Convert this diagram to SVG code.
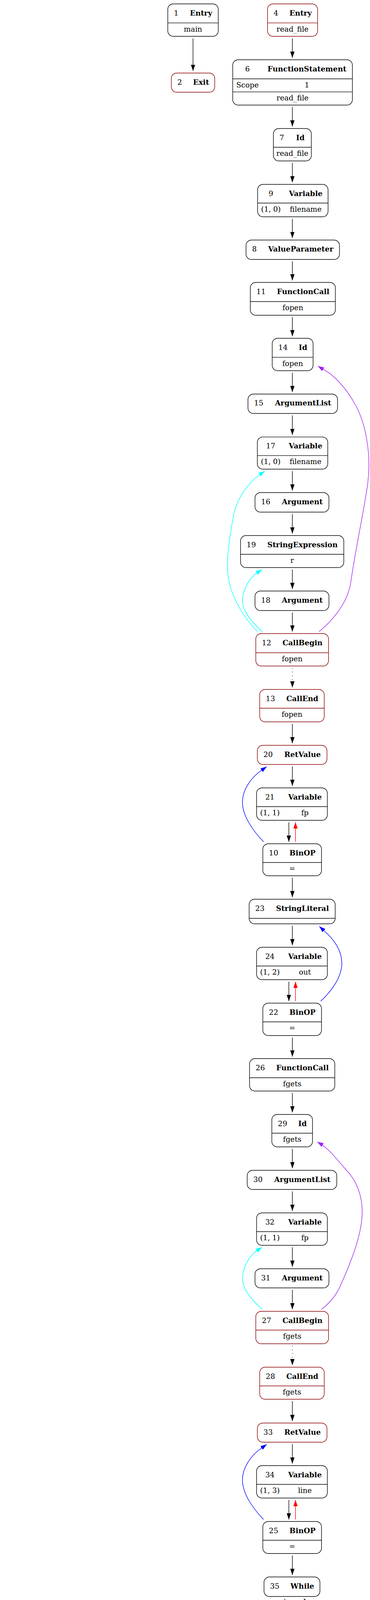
<svg xmlns="http://www.w3.org/2000/svg" width="946" height="7199" viewBox="0 0 946 7199">
<style>
text{font-family:"DejaVu Serif","Liberation Serif",serif;font-size:18.67px;text-anchor:middle;fill:#000}
.b{font-weight:bold}
.lbl{text-anchor:start}
.node rect{fill:#fff;stroke:#000;stroke-width:1.4}
.node line{stroke:#000;stroke-width:1.4}
.red rect,.red line{stroke:#8b0000}
.e{fill:none;stroke-width:1.4}
.k{stroke:#000;marker-end:url(#mk)}
.rd{stroke:#f00;marker-end:url(#mr)}
.bl{stroke:#00f;marker-end:url(#mb)}
.cy{stroke:#0ff;marker-end:url(#mc)}
.pu{stroke:#a020f0;marker-end:url(#mp)}
.dt{stroke-dasharray:1.6,8}
</style>
<defs>
<marker id="mk" viewBox="0 0 16 11" refX="16" refY="5.5" markerWidth="16" markerHeight="11" markerUnits="userSpaceOnUse" orient="auto"><path d="M0,0L16,5.5L0,11z" fill="#000"/></marker>
<marker id="mr" viewBox="0 0 16 11" refX="16" refY="5.5" markerWidth="16" markerHeight="11" markerUnits="userSpaceOnUse" orient="auto"><path d="M0,0L16,5.5L0,11z" fill="#f00"/></marker>
<marker id="mb" viewBox="0 0 16 11" refX="16" refY="5.5" markerWidth="16" markerHeight="11" markerUnits="userSpaceOnUse" orient="auto"><path d="M0,0L16,5.5L0,11z" fill="#00f"/></marker>
<marker id="mc" viewBox="0 0 16 11" refX="16" refY="5.5" markerWidth="16" markerHeight="11" markerUnits="userSpaceOnUse" orient="auto"><path d="M0,0L16,5.5L0,11z" fill="#0ff"/></marker>
<marker id="mp" viewBox="0 0 16 11" refX="16" refY="5.5" markerWidth="16" markerHeight="11" markerUnits="userSpaceOnUse" orient="auto"><path d="M0,0L16,5.5L0,11z" fill="#a020f0"/></marker>
</defs>
<rect x="0" y="0" width="946" height="7199" fill="#fff"/>
<g id="edges">
<path class="e k" d="M493.5,98.5L493.5,181.5"/>
<path class="e k" d="M747.5,98.5L747.5,148"/>
<path class="e k" d="M747.5,274.5L747.5,324"/>
<path class="e k" d="M747.5,417L747.5,467"/>
<path class="e k" d="M747.5,560L747.5,609.5"/>
<path class="e k" d="M747.5,669L747.5,718"/>
<path class="e k" d="M747.5,812L747.5,861"/>
<path class="e k" d="M747.5,954L747.5,1003.7"/>
<path class="e k" d="M747.5,1063.5L747.5,1113.6"/>
<path class="e k" d="M747.5,1206L747.5,1256"/>
<path class="e k" d="M747.5,1316L747.5,1366"/>
<path class="e k" d="M747.5,1458L747.5,1508"/>
<path class="e k" d="M747.5,1568L747.5,1617"/>
<path class="e k dt" d="M747.5,1710L747.5,1760"/>
<path class="e k" d="M747.5,1853L747.5,1903"/>
<path class="e k" d="M747.5,1962L747.5,2012"/>
<path class="e k" d="M738.5,2105L738.5,2155"/>
<path class="e rd" d="M755.5,2155L755.5,2105"/>
<path class="e k" d="M747.5,2247L747.5,2297"/>
<path class="e k" d="M747.5,2370L747.5,2420"/>
<path class="e k" d="M738.5,2513L738.5,2563"/>
<path class="e rd" d="M755.5,2563L755.5,2513"/>
<path class="e k" d="M747.5,2656L747.5,2705"/>
<path class="e k" d="M747.5,2798L747.5,2848"/>
<path class="e k" d="M747.5,2941L747.5,2991"/>
<path class="e k" d="M747.5,3050L747.5,3100"/>
<path class="e k" d="M747.5,3193L747.5,3243"/>
<path class="e k" d="M747.5,3302L747.5,3352"/>
<path class="e k dt" d="M747.5,3445L747.5,3495"/>
<path class="e k" d="M747.5,3587L747.5,3638"/>
<path class="e k" d="M747.5,3697L747.5,3747"/>
<path class="e k" d="M738.5,3840L738.5,3890"/>
<path class="e rd" d="M755.5,3890L755.5,3840"/>
<path class="e k" d="M747.5,3982L747.5,4032"/>
<path class="e k" d="M729,4093L701,4141"/>
<path class="e k" d="M666,4234L659,4283"/>
<path class="e k" d="M638,4377L634,4427"/>
<path class="e cy" d="M651,4427L654,4377"/>
<path class="e k" d="M635,4520L632,4569"/>
<path class="e k" d="M584,4629L446,4713"/>
<path class="e k" d="M630,4629L630,4697"/>
<path class="e k" d="M630,4791L630,4839"/>
<path class="e k" d="M622,4933L621,4982"/>
<path class="e cy" d="M639,4982L640,4934"/>
<path class="e k" d="M630,5076L630,5124"/>
<path class="e k" d="M618,5218L613,5267"/>
<path class="e rd" d="M630,5268L634,5219"/>
<path class="e k" d="M616,5361L616,5410"/>
<path class="e k" d="M614,5504L612,5571"/>
<path class="e k" d="M609,5665L608,5731"/>
<path class="e k" d="M608,5791L608,5915"/>
<path class="e k" d="M610,6009L610,6058"/>
<path class="e k" d="M610,6118L610,6168"/>
<path class="e k dt" d="M612,6260L613,6310"/>
<path class="e k" d="M621,6404L630,6469"/>
<path class="e k" d="M637,6530L641,6596"/>
<path class="e k" d="M681,6689L725,6738"/>
<path class="e rd" d="M743,6738L698,6690"/>
<path class="e k" d="M389,4775L363,4856"/>
<path class="e k" d="M349,4917L336,4982"/>
<path class="e k" d="M314,5076L293,5135"/>
<path class="e k" d="M274,5209L273,5267"/>
<path class="e cy" d="M291,5267L291,5209"/>
<path class="e k" d="M282,5361L282,5427"/>
<path class="e k" d="M261,5488L186,5588"/>
<path class="e k" d="M293,5488L326,5571"/>
<path class="e k" d="M343.5,5666L343.5,5832"/>
<path class="e k" d="M159,5649L150,5714"/>
<path class="e k" d="M139,5808L133,5914"/>
<path class="e k" d="M131,6008L130,6058"/>
<path class="e k" d="M131,6118L143,6168"/>
<path class="e k" d="M146,6260L150,6327"/>
<path class="e k" d="M154,6387L167,6453"/>
<path class="e k dt" d="M186,6546L194,6596"/>
<path class="e k" d="M205.5,6689L205.5,6755"/>
<path class="e k" d="M205.5,6815L205.5,6881"/>
<path class="e k" d="M208,6975L211,7023"/>
<path class="e k" d="M232,7084L261,7133"/>
<path class="e k" d="M343.5,5892L343.5,7055C343.5,7080 335,7100 319,7117.5L309,7130"/>
<path class="e k" d="M800.5,6738C812,6718 822,6690 822,6650L822,4190C822,4160 805,4130 786.7,4105.2L777,4092.5"/>
<path class="e cy" d="M659,1617C625,1585 592,1530 584,1480C577,1430 588,1370 597,1320C605,1280 630,1240 663.8,1215L677,1206"/>
<path class="e cy" d="M670.6,1617C640,1590 618,1560 620,1535C622,1505 640,1478 656.6,1466.8L670,1458"/>
<path class="e pu" d="M816,1617C862,1578 890,1535 897,1490C910,1400 930,1310 940,1240C950,1160 935,1080 905,1030C885,995 855,960 826.2,945.4L812.6,937"/>
<path class="e bl" d="M674,2155C645,2125 622,2090 620,2058C618,2025 640,1992 668.9,1971.8L682,1962.6"/>
<path class="e bl" d="M820,2563C850,2535 874,2500 874,2465C874,2435 855,2405 828.1,2382.2L816.3,2371.4"/>
<path class="e pu" d="M822,3352C850,3330 862,3310 870,3292C900,3225 925,3160 926,3105C927,3060 910,3020 885,2995C868,2975 848,2950 824.6,2931.3L811,2923"/>
<path class="e cy" d="M670.6,3352C640,3325 618,3295 620,3270C622,3240 640,3213 656.6,3201.8L670,3193"/>
<path class="e bl" d="M674,3890C645,3860 622,3825 620,3793C618,3760 640,3727 668.9,3706.8L682,3697.6"/>
<path class="e cy" d="M703.7,4426.6C730,4400 752,4370 753,4334C754,4300 740,4270 724.6,4247.2L715,4234.4"/>
<path class="e cy" d="M703,4983C735,4950 755,4920 755.5,4886C756,4850 745,4830 721.8,4805.7L710,4795"/>
<path class="e bl" d="M553,5268C525,5238 503,5205 503.7,5169C504,5130 520,5105 542.7,5085.6L555.5,5076"/>
<path class="e cy" d="M366,5271C400,5245 426,5210 426.5,5173C427,5135 410,5110 392.6,5089.8L383,5077"/>
<path class="e cy" d="M532.7,6166.7C505,6140 483,6115 484,6090C485,6060 500,6040 520,6021L532.7,6011.5"/>
<path class="e pu" d="M683.7,6166.7C710,6150 745,6120 760,6055C775,5990 787,5930 784,5880C781,5800 765,5740 740,5705C725,5685 705,5668 687.4,5657.5L674,5648.8"/>
<path class="e bl" d="M693.4,6774.5C640,6765 575,6740 545,6710C520,6685 512,6650 518,6625C525,6595 550,6560 576.4,6539.8L589,6530"/>
<path class="e pu" d="M231.6,6452.6C250,6435 262,6415 270,6395C285,6350 298,6290 298,6229C298,6160 290,6090 262,6050C250,6030 230,6012 209.4,6001.6L196,5993"/>
<path class="e cy" d="M100,6454C60,6425 22,6395 22,6360C22,6320 38,6290 54.6,6270L68,6261"/>
<text class="lbl" x="544" y="4669">False</text>
<text class="lbl" x="631" y="4669">True</text>
<text class="lbl" x="232" y="5543">False</text>
<text class="lbl" x="317" y="5543">True</text>
</g>
<g id="n1" class="node"><rect x="429" y="10" width="129" height="83" rx="14"/><line x1="429" y1="58.6" x2="558" y2="58.6"/><text x="450.5" y="39.5">1</text><text class="b" x="514" y="39.5">Entry</text><text x="493.5" y="80.6">main</text></g>
<g id="n4" class="node red"><rect x="684" y="10" width="128" height="83" rx="14"/><line x1="684" y1="58.6" x2="812" y2="58.6"/><text x="705.5" y="39.5">4</text><text class="b" x="768.5" y="39.5">Entry</text><text x="748" y="80.6">read_file</text></g>
<g id="n2" class="node red"><rect x="438" y="187" width="111" height="49" rx="14"/><text x="459.5" y="216.5">2</text><text class="b" x="514" y="216.5">Exit</text></g>
<g id="n6" class="node"><rect x="595" y="153" width="306" height="116" rx="14"/><line x1="595" y1="201.7" x2="901" y2="201.7"/><line x1="595" y1="235.4" x2="901" y2="235.4"/><text x="632.8" y="182.5">6</text><text class="b" x="784.8" y="182.5">FunctionStatement</text><text x="632.8" y="223.7">Scope</text><text x="784.8" y="223.7">1</text><text x="748" y="257.4">read_file</text></g>
<g id="n7" class="node"><rect x="699" y="329" width="97" height="83" rx="14"/><line x1="699" y1="377" x2="796" y2="377"/><text x="720.5" y="358.5">7</text><text class="b" x="768" y="358.5">Id</text><text x="747.5" y="399">read_file</text></g>
<g id="n9" class="node"><rect x="658.6" y="472" width="180.1" height="83" rx="14"/><line x1="658.6" y1="519.7" x2="838.7" y2="519.7"/><text x="692.7" y="501.5">9</text><text class="b" x="781.7" y="501.5">Variable</text><text x="692.7" y="541.7">(1, 0)</text><text x="781.7" y="541.7">filename</text></g>
<g id="n8" class="node"><rect x="629" y="614.5" width="239" height="49.8" rx="14"/><text x="650.5" y="644">8</text><text class="b" x="769" y="644">ValueParameter</text></g>
<g id="n11" class="node"><rect x="640" y="723" width="217.5" height="84" rx="14"/><line x1="640" y1="772" x2="857.5" y2="772"/><text x="667.4" y="752.5">11</text><text class="b" x="775.1" y="752.5">FunctionCall</text><text x="748.7" y="794">fopen</text></g>
<g id="n14" class="node"><rect x="696" y="866" width="104.5" height="83" rx="14"/><line x1="696" y1="914.6" x2="800.5" y2="914.6"/><text x="723.4" y="895.5">14</text><text class="b" x="774.6" y="895.5">Id</text><text x="748.2" y="936.6">fopen</text></g>
<g id="n15" class="node"><rect x="634" y="1008.7" width="229" height="49.8" rx="14"/><text x="661.4" y="1038.2">15</text><text class="b" x="774.9" y="1038.2">ArgumentList</text></g>
<g id="n17" class="node"><rect x="658" y="1118.6" width="180" height="82.4" rx="14"/><line x1="658" y1="1166.4" x2="838" y2="1166.4"/><text x="692.1" y="1148.1">17</text><text class="b" x="781.1" y="1148.1">Variable</text><text x="692.1" y="1188.4">(1, 0)</text><text x="781.1" y="1188.4">filename</text></g>
<g id="n16" class="node"><rect x="652" y="1261" width="189" height="50" rx="14"/><text x="679.4" y="1290.5">16</text><text class="b" x="772.9" y="1290.5">Argument</text></g>
<g id="n19" class="node"><rect x="615" y="1371" width="264" height="82" rx="14"/><line x1="615" y1="1419" x2="879" y2="1419"/><text x="642.4" y="1400.5">19</text><text class="b" x="773.4" y="1400.5">StringExpression</text><text x="747" y="1441">r</text></g>
<g id="n18" class="node"><rect x="652" y="1513" width="189" height="50" rx="14"/><text x="679.4" y="1542.5">18</text><text class="b" x="772.9" y="1542.5">Argument</text></g>
<g id="n12" class="node red"><rect x="654" y="1622" width="186" height="83" rx="14"/><line x1="654" y1="1671" x2="840" y2="1671"/><text x="681.4" y="1651.5">12</text><text class="b" x="773.4" y="1651.5">CallBegin</text><text x="747" y="1693">fopen</text></g>
<g id="n13" class="node red"><rect x="664" y="1765" width="165" height="83" rx="14"/><line x1="664" y1="1813" x2="829" y2="1813"/><text x="691.4" y="1794.5">13</text><text class="b" x="772.9" y="1794.5">CallEnd</text><text x="746.5" y="1835">fopen</text></g>
<g id="n20" class="node red"><rect x="658" y="1908" width="178" height="49" rx="14"/><text x="685.4" y="1937.5">20</text><text class="b" x="773.4" y="1937.5">RetValue</text></g>
<g id="n21" class="node"><rect x="656" y="2017" width="181" height="83" rx="14"/><line x1="656" y1="2065" x2="837" y2="2065"/><text x="690.1" y="2046.5">21</text><text class="b" x="779.6" y="2046.5">Variable</text><text x="690.1" y="2087">(1, 1)</text><text x="779.6" y="2087">fp</text></g>
<g id="n10" class="node"><rect x="672" y="2160" width="150" height="82" rx="14"/><line x1="672" y1="2208" x2="822" y2="2208"/><text x="699.4" y="2189.5">10</text><text class="b" x="773.4" y="2189.5">BinOP</text><text x="747" y="2230">=</text></g>
<g id="n23" class="node"><rect x="637" y="2302" width="220" height="63" rx="14"/><line x1="637" y1="2351" x2="857" y2="2351"/><text x="664.4" y="2331.5">23</text><text class="b" x="773.4" y="2331.5">StringLiteral</text></g>
<g id="n24" class="node"><rect x="656" y="2425" width="181" height="83" rx="14"/><line x1="656" y1="2473" x2="837" y2="2473"/><text x="690.1" y="2454.5">24</text><text class="b" x="779.6" y="2454.5">Variable</text><text x="690.1" y="2495">(1, 2)</text><text x="779.6" y="2495">out</text></g>
<g id="n22" class="node"><rect x="672" y="2568" width="150" height="83" rx="14"/><line x1="672" y1="2616" x2="822" y2="2616"/><text x="699.4" y="2597.5">22</text><text class="b" x="773.4" y="2597.5">BinOP</text><text x="747" y="2638">=</text></g>
<g id="n26" class="node"><rect x="638" y="2710" width="218" height="83" rx="14"/><line x1="638" y1="2759" x2="856" y2="2759"/><text x="665.4" y="2739.5">26</text><text class="b" x="773.4" y="2739.5">FunctionCall</text><text x="747" y="2781">fgets</text></g>
<g id="n29" class="node"><rect x="695" y="2853" width="104" height="83" rx="14"/><line x1="695" y1="2901" x2="799" y2="2901"/><text x="722.4" y="2882.5">29</text><text class="b" x="773.4" y="2882.5">Id</text><text x="747" y="2923">fgets</text></g>
<g id="n30" class="node"><rect x="632" y="2996" width="229" height="49" rx="14"/><text x="659.4" y="3025.5">30</text><text class="b" x="772.9" y="3025.5">ArgumentList</text></g>
<g id="n32" class="node"><rect x="656" y="3105" width="181" height="83" rx="14"/><line x1="656" y1="3153" x2="837" y2="3153"/><text x="690.1" y="3134.5">32</text><text class="b" x="779.6" y="3134.5">Variable</text><text x="690.1" y="3175">(1, 1)</text><text x="779.6" y="3175">fp</text></g>
<g id="n31" class="node"><rect x="652" y="3248" width="189" height="49" rx="14"/><text x="679.4" y="3277.5">31</text><text class="b" x="772.9" y="3277.5">Argument</text></g>
<g id="n27" class="node red"><rect x="654" y="3357" width="186" height="83" rx="14"/><line x1="654" y1="3405" x2="840" y2="3405"/><text x="681.4" y="3386.5">27</text><text class="b" x="773.4" y="3386.5">CallBegin</text><text x="747" y="3427">fgets</text></g>
<g id="n28" class="node red"><rect x="664" y="3500" width="165" height="82" rx="14"/><line x1="664" y1="3548" x2="829" y2="3548"/><text x="691.4" y="3529.5">28</text><text class="b" x="772.9" y="3529.5">CallEnd</text><text x="746.5" y="3570">fgets</text></g>
<g id="n33" class="node red"><rect x="658" y="3643" width="178" height="49" rx="14"/><text x="685.4" y="3672.5">33</text><text class="b" x="773.4" y="3672.5">RetValue</text></g>
<g id="n34" class="node"><rect x="656" y="3752" width="181" height="83" rx="14"/><line x1="656" y1="3800" x2="837" y2="3800"/><text x="690.1" y="3781.5">34</text><text class="b" x="779.6" y="3781.5">Variable</text><text x="690.1" y="3822">(1, 3)</text><text x="779.6" y="3822">line</text></g>
<g id="n25" class="node"><rect x="672" y="3895" width="150" height="82" rx="14"/><line x1="672" y1="3943" x2="822" y2="3943"/><text x="699.4" y="3924.5">25</text><text class="b" x="773.4" y="3924.5">BinOP</text><text x="747" y="3965">=</text></g>
<g id="n35" class="node"><rect x="675" y="4037" width="143" height="50" rx="14"/><text x="702.4" y="4066.5">35</text><text class="b" x="772.9" y="4066.5">While</text></g>
<g id="n38" class="node"><rect x="582" y="4146" width="181" height="83" rx="14"/><line x1="582" y1="4194" x2="763" y2="4194"/><text x="616.1" y="4175.5">38</text><text class="b" x="705.6" y="4175.5">Variable</text><text x="616.1" y="4216">(1, 3)</text><text x="705.6" y="4216">line</text></g>
<g id="n39" class="node"><rect x="582" y="4289" width="137" height="83" rx="14"/><line x1="582" y1="4337" x2="719" y2="4337"/><text x="609.4" y="4318.5">39</text><text class="b" x="676.9" y="4318.5">False</text><text x="650.5" y="4359">false</text></g>
<g id="n37" class="node"><rect x="565" y="4432" width="147" height="83" rx="14"/><line x1="565" y1="4480" x2="712" y2="4480"/><text x="592.4" y="4461.5">37</text><text class="b" x="664.9" y="4461.5">RelOP</text><text x="638.5" y="4502">!=</text></g>
<g id="n40" class="node"><rect x="537" y="4575" width="186" height="49" rx="14"/><text x="564.4" y="4604.5">40</text><text class="b" x="656.4" y="4604.5">Condition</text></g>
<g id="n43" class="node"><rect x="540" y="4703" width="181" height="83" rx="14"/><line x1="540" y1="4751" x2="721" y2="4751"/><text x="574.1" y="4732.5">43</text><text class="b" x="663.6" y="4732.5">Variable</text><text x="574.1" y="4773">(1, 2)</text><text x="663.6" y="4773">out</text></g>
<g id="n44" class="node"><rect x="540" y="4845" width="181" height="83" rx="14"/><line x1="540" y1="4893" x2="721" y2="4893"/><text x="574.1" y="4874.5">44</text><text class="b" x="663.6" y="4874.5">Variable</text><text x="574.1" y="4915">(1, 3)</text><text x="663.6" y="4915">line</text></g>
<g id="n42" class="node"><rect x="555" y="4988" width="150" height="83" rx="14"/><line x1="555" y1="5036" x2="705" y2="5036"/><text x="582.4" y="5017.5">42</text><text class="b" x="656.4" y="5017.5">BinOP</text><text x="630" y="5058">.</text></g>
<g id="n45" class="node"><rect x="540" y="5130" width="181" height="83" rx="14"/><line x1="540" y1="5179" x2="721" y2="5179"/><text x="574.1" y="5159.5">45</text><text class="b" x="663.6" y="5159.5">Variable</text><text x="574.1" y="5201">(1, 2)</text><text x="663.6" y="5201">out</text></g>
<g id="n41" class="node"><rect x="542" y="5273" width="150" height="83" rx="14"/><line x1="542" y1="5321" x2="692" y2="5321"/><text x="569.4" y="5302.5">41</text><text class="b" x="643.4" y="5302.5">BinOP</text><text x="617" y="5343">=</text></g>
<g id="n47" class="node"><rect x="507" y="5416" width="217" height="82" rx="14"/><line x1="507" y1="5464" x2="724" y2="5464"/><text x="534.4" y="5445.5">47</text><text class="b" x="641.9" y="5445.5">FunctionCall</text><text x="615.5" y="5486">fgets</text></g>
<g id="n50" class="node"><rect x="558" y="5577" width="104" height="83" rx="14"/><line x1="558" y1="5625" x2="662" y2="5625"/><text x="585.4" y="5606.5">50</text><text class="b" x="636.4" y="5606.5">Id</text><text x="610" y="5647">fgets</text></g>
<g id="n51" class="node"><rect x="493" y="5737" width="229" height="49" rx="14"/><text x="520.4" y="5766.5">51</text><text class="b" x="633.9" y="5766.5">ArgumentList</text></g>
<g id="n53" class="node"><rect x="519" y="5921" width="180" height="83" rx="14"/><line x1="519" y1="5969" x2="699" y2="5969"/><text x="553.1" y="5950.5">53</text><text class="b" x="642.1" y="5950.5">Variable</text><text x="553.1" y="5991">(1, 1)</text><text x="642.1" y="5991">fp</text></g>
<g id="n52" class="node"><rect x="515" y="6064" width="189" height="49" rx="14"/><text x="542.4" y="6093.5">52</text><text class="b" x="635.9" y="6093.5">Argument</text></g>
<g id="n48" class="node red"><rect x="517" y="6174" width="186" height="81" rx="14"/><line x1="517" y1="6222" x2="703" y2="6222"/><text x="544.4" y="6203.5">48</text><text class="b" x="636.4" y="6203.5">CallBegin</text><text x="610" y="6244">fgets</text></g>
<g id="n49" class="node red"><rect x="533" y="6316" width="164" height="82" rx="14"/><line x1="533" y1="6365" x2="697" y2="6365"/><text x="560.4" y="6345.5">49</text><text class="b" x="641.4" y="6345.5">CallEnd</text><text x="615" y="6387">fgets</text></g>
<g id="n54" class="node red"><rect x="546" y="6475" width="178" height="49" rx="14"/><text x="573.4" y="6504.5">54</text><text class="b" x="661.4" y="6504.5">RetValue</text></g>
<g id="n55" class="node"><rect x="556" y="6602" width="180" height="81" rx="14"/><line x1="556" y1="6649" x2="736" y2="6649"/><text x="590.1" y="6631.5">55</text><text class="b" x="679.1" y="6631.5">Variable</text><text x="590.1" y="6671">(1, 3)</text><text x="679.1" y="6671">line</text></g>
<g id="n46" class="node"><rect x="704" y="6744" width="150" height="82" rx="14"/><line x1="704" y1="6792" x2="854" y2="6792"/><text x="731.4" y="6773.5">46</text><text class="b" x="805.4" y="6773.5">BinOP</text><text x="779" y="6814">=</text></g>
<g id="n36" class="node red"><rect x="306" y="4719" width="185" height="49" rx="14"/><text x="333.4" y="4748.5">36</text><text class="b" x="424.9" y="4748.5">WhileEnd</text></g>
<g id="n56" class="node"><rect x="304" y="4862" width="99" height="49" rx="14"/><text x="331.4" y="4891.5">56</text><text class="b" x="379.9" y="4891.5">If</text></g>
<g id="n59" class="node"><rect x="238" y="4988" width="181" height="83" rx="14"/><line x1="238" y1="5036" x2="419" y2="5036"/><text x="272.1" y="5017.5">59</text><text class="b" x="361.6" y="5017.5">Variable</text><text x="272.1" y="5058">(1, 2)</text><text x="361.6" y="5058">out</text></g>
<g id="n60" class="node"><rect x="172" y="5141" width="219" height="62" rx="14"/><line x1="172" y1="5190" x2="391" y2="5190"/><text x="199.4" y="5170.5">60</text><text class="b" x="307.9" y="5170.5">StringLiteral</text></g>
<g id="n58" class="node"><rect x="209" y="5273" width="146" height="83" rx="14"/><line x1="209" y1="5321" x2="355" y2="5321"/><text x="236.4" y="5302.5">58</text><text class="b" x="308.4" y="5302.5">RelOP</text><text x="282" y="5343">==</text></g>
<g id="n61" class="node"><rect x="189" y="5433" width="186" height="48" rx="14"/><text x="216.4" y="5462.5">61</text><text class="b" x="308.4" y="5462.5">Condition</text></g>
<g id="n57" class="node red"><rect x="93" y="5594" width="142" height="50" rx="14"/><text x="120.4" y="5623.5">57</text><text class="b" x="190.4" y="5623.5">IfEnd</text></g>
<g id="n63" class="node"><rect x="280" y="5577" width="127" height="83" rx="14"/><line x1="280" y1="5625" x2="407" y2="5625"/><text x="307.4" y="5606.5">63</text><text class="b" x="369.9" y="5606.5">Null</text><text x="343.5" y="5647">null</text></g>
<g id="n62" class="node"><rect x="264" y="5838" width="158" height="48" rx="14"/><text x="291.4" y="5867.5">62</text><text class="b" x="369.4" y="5867.5">Return</text></g>
<g id="n64" class="node"><rect x="30" y="5720" width="218" height="83" rx="14"/><line x1="30" y1="5768" x2="248" y2="5768"/><text x="57.4" y="5749.5">64</text><text class="b" x="165.4" y="5749.5">FunctionCall</text><text x="139" y="5790">fclose</text></g>
<g id="n67" class="node"><rect x="79" y="5920" width="105" height="83" rx="14"/><line x1="79" y1="5969" x2="184" y2="5969"/><text x="106.4" y="5949.5">67</text><text class="b" x="157.9" y="5949.5">Id</text><text x="131.5" y="5991">fclose</text></g>
<g id="n68" class="node"><rect x="15" y="6064" width="229" height="49" rx="14"/><text x="42.4" y="6093.5">68</text><text class="b" x="155.9" y="6093.5">ArgumentList</text></g>
<g id="n70" class="node"><rect x="54" y="6174" width="181" height="81" rx="14"/><line x1="54" y1="6222" x2="235" y2="6222"/><text x="88.1" y="6203.5">70</text><text class="b" x="177.6" y="6203.5">Variable</text><text x="88.1" y="6244">(1, 1)</text><text x="177.6" y="6244">fp</text></g>
<g id="n69" class="node"><rect x="54" y="6333" width="189" height="48" rx="14"/><text x="81.4" y="6362.5">69</text><text class="b" x="174.9" y="6362.5">Argument</text></g>
<g id="n65" class="node red"><rect x="84" y="6459" width="186" height="82" rx="14"/><line x1="84" y1="6506" x2="270" y2="6506"/><text x="111.4" y="6488.5">65</text><text class="b" x="203.4" y="6488.5">CallBegin</text><text x="177" y="6528">fclose</text></g>
<g id="n66" class="node red"><rect x="123" y="6602" width="165" height="81" rx="14"/><line x1="123" y1="6649" x2="288" y2="6649"/><text x="150.4" y="6631.5">66</text><text class="b" x="231.9" y="6631.5">CallEnd</text><text x="205.5" y="6671">fclose</text></g>
<g id="n71" class="node red"><rect x="116" y="6761" width="178" height="49" rx="14"/><text x="143.4" y="6790.5">71</text><text class="b" x="231.4" y="6790.5">RetValue</text></g>
<g id="n73" class="node"><rect x="115" y="6887" width="181" height="82" rx="14"/><line x1="115" y1="6934" x2="296" y2="6934"/><text x="149.1" y="6916.5">73</text><text class="b" x="238.6" y="6916.5">Variable</text><text x="149.1" y="6956">(1, 2)</text><text x="238.6" y="6956">out</text></g>
<g id="n72" class="node"><rect x="136" y="7029" width="158" height="49" rx="14"/><text x="163.4" y="7058.5">72</text><text class="b" x="241.4" y="7058.5">Return</text></g>
<g id="n5" class="node red"><rect x="224" y="7139" width="111" height="48" rx="14"/><text x="245.5" y="7168.5">5</text><text class="b" x="300" y="7168.5">Exit</text></g>
</svg>
